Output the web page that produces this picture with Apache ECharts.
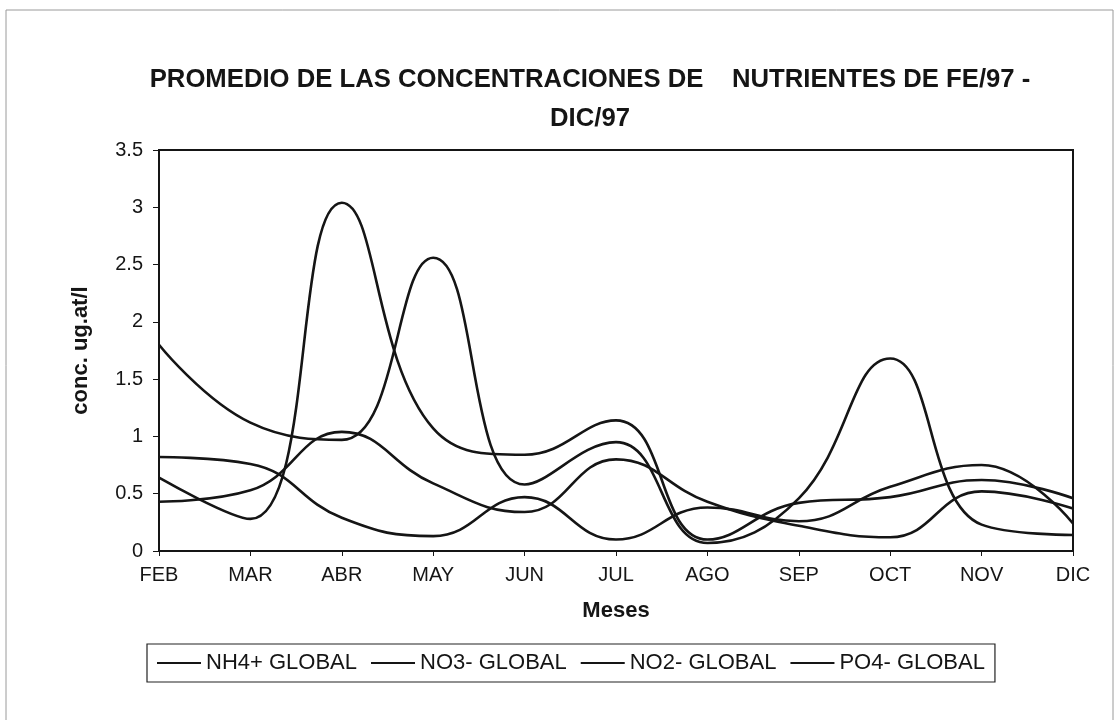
<!DOCTYPE html>
<html>
<head>
<meta charset="utf-8">
<script src="https://cdn.jsdelivr.net/npm/echarts@6/dist/echarts.min.js"></script>
<style>
html,body{margin:0;padding:0;background:#fff;}
#chart{width:1116px;height:720px;}
</style>
</head>
<body>
<div id="chart"></div>
<script>
var categories = ['FEB','MAR','ABR','MAY','JUN','JUL','AGO','SEP','OCT','NOV','DIC'];
var seriesNames = ['NH4+ GLOBAL','NO3- GLOBAL','NO2- GLOBAL','PO4- GLOBAL'];
var nh4 = [0.64, 0.28, 3.04, 1.07, 0.84, 1.14, 0.10, 0.42, 0.47, 0.62, 0.46];
var no3 = [1.80, 1.12, 0.97, 2.56, 0.58, 0.95, 0.07, 0.46, 1.68, 0.23, 0.14];
var no2 = [0.43, 0.53, 1.04, 0.59, 0.34, 0.80, 0.43, 0.22, 0.12, 0.52, 0.37];
var po4 = [0.82, 0.76, 0.29, 0.13, 0.47, 0.10, 0.38, 0.26, 0.56, 0.75, 0.24];
var yTicks = {min: 0, max: 3.5, interval: 0.5};
var titleText = 'PROMEDIO DE LAS CONCENTRACIONES DE    NUTRIENTES DE FE/97 -\nDIC/97';

var FONT = '"Liberation Sans", Arial, sans-serif';
var INK = '#151515';
var values = [nh4, no3, no2, po4];

var chart = echarts.init(document.getElementById('chart'), null, {renderer: 'canvas'});
chart.setOption({
  backgroundColor: '#fff',
  animation: false,
  graphic: [{
    type: 'rect', silent: true,
    shape: {x: 6, y: 10, width: 1107, height: 730},
    style: {fill: 'none', stroke: '#9a9a9a', lineWidth: 1}
  }],
  title: {
    text: titleText,
    left: 585, top: 55, textAlign: 'center',
    textStyle: {fontFamily: FONT, fontSize: 25.7, fontWeight: 'bold', color: INK, lineHeight: 39}
  },
  legend: {
    data: seriesNames,
    left: 147, top: 644,
    orient: 'horizontal',
    icon: 'rect',
    itemWidth: 44, itemHeight: 2, itemGap: 14,
    padding: [8, 10],
    borderColor: '#222', borderWidth: 1.2,
    textStyle: {fontFamily: FONT, fontSize: 22, color: INK},
    itemStyle: {color: INK}
  },
  grid: {
    left: 159, right: 43, top: 150, bottom: 169,
    show: true, borderColor: INK, borderWidth: 2, backgroundColor: 'transparent'
  },
  xAxis: {
    type: 'category', data: categories, boundaryGap: false,
    name: 'Meses', nameLocation: 'middle', nameGap: 49,
    nameTextStyle: {fontFamily: FONT, fontSize: 22, fontWeight: 'bold', color: INK},
    axisLine: {lineStyle: {color: INK, width: 2}},
    axisTick: {show: true, length: 5, lineStyle: {color: INK, width: 1}},
    axisLabel: {fontFamily: FONT, fontSize: 20, color: INK, margin: 14},
    splitLine: {show: false}
  },
  yAxis: {
    type: 'value', min: yTicks.min, max: yTicks.max, interval: yTicks.interval,
    name: 'conc. ug.at/l', nameLocation: 'middle', nameGap: 67, nameRotate: 90,
    nameTextStyle: {fontFamily: FONT, fontSize: 22, fontWeight: 'bold', color: INK},
    axisLine: {show: true, lineStyle: {color: INK, width: 2}},
    axisTick: {show: true, length: 6, lineStyle: {color: INK, width: 1}},
    axisLabel: {fontFamily: FONT, fontSize: 20, color: INK, margin: 16},
    splitLine: {show: false}
  },
  series: seriesNames.map(function (n, i) {
    return {
      name: n, type: 'line', data: values[i],
      smooth: 0.45, symbol: 'none', showSymbol: false,
      lineStyle: {color: INK, width: 2.6},
      itemStyle: {color: INK}
    };
  })
});
</script>
</body>
</html>
